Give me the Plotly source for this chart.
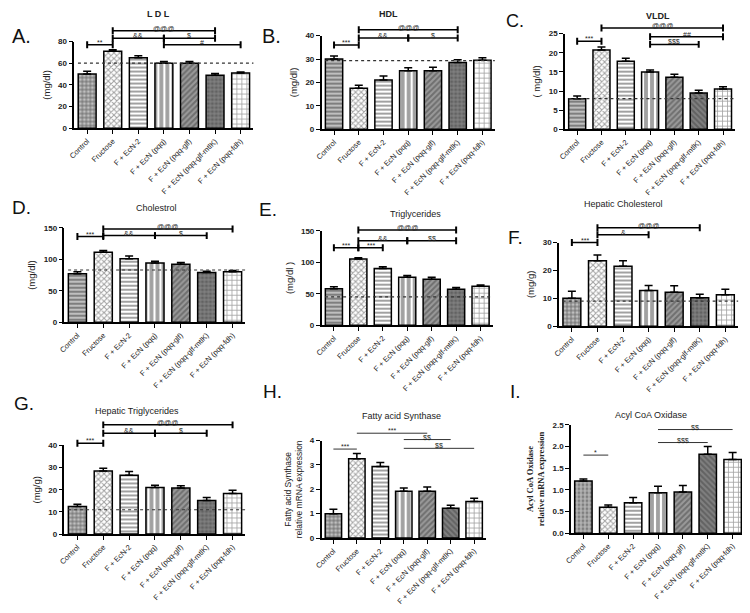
import plotly.graph_objects as go

# page has an 8px body margin: lay out in window pixels, convert with that offset
OX, OY = 8, 8
FW, FH = 742, 605

categories = ["Control", "Fructose", "F + EcN-2", "F + EcN (pqq)", "F + EcN (pqq-glf)",
              "F + EcN (pqq-glf-mtlK)", "F + EcN (pqq-fdh)"]

ldl = [50, 71, 65, 60, 60, 49, 51]
ldl_err = [2.5, 1.5, 2.0, 1.5, 1.5, 1.5, 0.8]
hdl = [30, 17.5, 21, 25, 25, 28.5, 29.5]
hdl_err = [1.3, 1.3, 1.7, 1.3, 1.5, 1.2, 1.0]
vldl = [8, 20.7, 17.8, 15, 13.6, 9.5, 10.5]
vldl_err = [0.7, 0.8, 0.8, 0.5, 0.8, 0.7, 0.6]
chol = [77, 111, 101, 94, 92, 79, 80]
chol_err = [3, 3, 4, 3, 3, 2, 2]
tg = [58, 105, 90, 76, 73, 57, 62]
tg_err = [3, 2, 3, 3, 3, 3, 2]
hchol = [10, 23.5, 21.5, 12.8, 12.2, 10.2, 11.3]
hchol_err = [2.5, 2.0, 2.0, 1.8, 2.3, 1.3, 2.0]
htg = [12.5, 28.5, 26.5, 21, 20.8, 15.2, 18.3]
htg_err = [1.0, 1.2, 1.7, 1.0, 1.0, 1.3, 1.5]
fas = [1.0, 3.25, 2.93, 1.92, 1.92, 1.22, 1.5]
fas_err = [0.18, 0.22, 0.17, 0.13, 0.17, 0.13, 0.13]
aco = [1.2, 0.6, 0.7, 0.93, 0.95, 1.82, 1.7]
aco_err = [0.05, 0.05, 0.12, 0.15, 0.15, 0.18, 0.16]

# brackets: (from index, to index, y value, label)
ldl_sig = [(0, 1, 77, "**"), (1, 3, 83, "&&"), (3, 5, 83, "$"), (1, 5, 90, "@@@"), (3, 6, 77, "#")]
hdl_sig = [(0, 1, 36, "***"), (1, 3, 39, "&&"), (3, 5, 39, "$"), (1, 5, 42.5, "@@@")]
vldl_sig = [(0, 1, 23, "***"), (1, 6, 26.5, "@@@"), (3, 6, 24.2, "##"), (3, 5, 22.2, "$$$")]
chol_sig = [(0, 1, 136, "***"), (1, 3, 137.5, "&&"), (3, 5, 137.5, "$"), (1, 6, 148, "@@@")]
tg_sig = [(0, 1, 123, "***"), (1, 2, 123, "***"), (1, 3, 134, "&&"), (3, 5, 134, "$$"), (1, 5, 151, "@@@")]
hchol_sig = [(0, 1, 30, "***"), (1, 3, 32.8, "&"), (1, 5, 35.3, "@@@")]
htg_sig = [(0, 1, 41, "***"), (1, 3, 45.5, "&&"), (3, 5, 45.5, "$"), (1, 6, 49.3, "@@@")]
fas_sig = [(0, 1, 3.65, "***"), (1, 4, 4.3, "***"), (3, 5, 4.04, "$$"), (3, 6, 3.68, "$$")]
aco_sig = [(0, 1, 1.8, "*"), (3, 5, 2.09, "$$$"), (3, 6, 2.39, "$$")]

panels = [
    dict(letter="A.", title="<b>L D L</b>", ytitle="(mg/dl)", v=ldl, e=ldl_err, ymax=80, dtick=20, ref=60,
         sig=ldl_sig, caps=True, x=(67, 248), y=(38, 126), lt=(2, 32, 20), tt=(152, 10), ctrl="."),
    dict(letter="B.", title="<b>HDL</b>", ytitle="(mg/dl)", v=hdl, e=hdl_err, ymax=40, dtick=10, ref=29.3,
         sig=hdl_sig, caps=True, x=(317, 492), y=(32, 127), lt=(255, 32, 20), tt=(385, 10), ctrl="-"),
    dict(letter="C.", title="<b>VLDL</b>", ytitle="( mg/dl)", v=vldl, e=vldl_err, ymax=25, dtick=5, ref=8,
         sig=vldl_sig, caps=True, x=(563, 735), y=(30, 127), lt=(501, 17, 18), tt=(657, 12), ctrl="-"),
    dict(letter="D.", title="Cholestrol", ytitle="(mg/dl)", v=chol, e=chol_err, ymax=150, dtick=50, ref=83,
         sig=chol_sig, caps=True, x=(57, 240), y=(227, 323), lt=(2, 206, 19), tt=(150, 207), ctrl="-"),
    dict(letter="E.", title="Triglycerides", ytitle="(mg/dl )", v=tg, e=tg_err, ymax=150, dtick=50, ref=45,
         sig=tg_sig, caps=True, x=(317, 490), y=(230, 326), lt=(252, 208, 19), tt=(412, 213), ctrl="-"),
    dict(letter="F.", title="Hepatic Cholesterol", ytitle="(mg/g)", v=hchol, e=hchol_err, ymax=30, dtick=10,
         ref=9, sig=hchol_sig, caps=True, x=(557, 738), y=(242, 327), lt=(503, 237, 19), tt=(622, 203), ctrl="."),
    dict(letter="G.", title="Hepatic Triglycerides", ytitle="(mg/g)", v=htg, e=htg_err, ymax=40, dtick=10,
         ref=11, sig=htg_sig, caps=True, x=(57, 240), y=(448, 538), lt=(4, 405, 19), tt=(130, 413), ctrl="."),
    dict(letter="H.", title="Fatty acid Synthase", ytitle="Fatty acid Synthase<br>relative mRNA expression",
         v=fas, e=fas_err, ymax=4, dtick=1, ref=None, sig=fas_sig, caps=False, x=(317, 483), y=(443, 542),
         lt=(256, 393, 19), tt=(398, 418), ctrl="."),
    dict(letter="I.", title="Acyl CoA Oxidase",
         ytitle="<b>Acyl CoA Oxidase<br>relative mRNA expression</b>", v=aco, e=aco_err, ymax=2.5, dtick=0.5,
         ref=None, sig=aco_sig, caps=False, x=(569, 745), y=(427, 537), lt=(505, 393, 19), tt=(650, 417),
         ctrl="+"),
]


def px(xv):
    return (xv - OX) / FW


def py(yv):
    return 1 - (yv - OY) / FH


fig = go.Figure()
shapes = []
annots = []
SANS = "Liberation Sans"

for k, p in enumerate(panels, start=1):
    xs = "" if k == 1 else str(k)
    xa, ya = "x" + xs, "y" + xs
    mtl_shape = "\\" if k in (3, 8, 9) else "."
    shapes_list = [p["ctrl"], "x", "-", "|", "/", mtl_shape, "+"]
    bg = ["#7e7e7e", "white", "white", "white", "#9a9a9a", "#808080", "white"]
    fg = ["#262626", "black", "#111111", "black", "#0e0e0e", "#262626", "black"]
    sz = [4, 4, 4, 6, 4, 4, 5]
    sol = [0.5, 0.45, 0.5, 0.65, 0.5, 0.5, 0.3]
    fig.add_trace(go.Bar(
        x=categories, y=p["v"], xaxis=xa, yaxis=ya, width=0.7,
        marker=dict(color=bg, line=dict(color="black", width=1.5),
                    pattern=dict(shape=shapes_list, fgcolor=fg, bgcolor=bg, size=sz, solidity=sol)),
        error_y=dict(type="data", array=p["e"], arrayminus=[0] * 7, symmetric=False,
                     color="black", thickness=1.5, width=4),
        showlegend=False, hoverinfo="skip"))
    x0, x1 = p["x"]
    y0, y1 = p["y"]
    fig.layout["xaxis" + xs] = dict(
        domain=[px(x0), min(px(x1), 1)], anchor=ya, type="category", range=[-0.5, 6.5],
        showline=True, linecolor="black", linewidth=1.5, ticks="outside", ticklen=4,
        tickcolor="black", tickwidth=1.2, tickangle=-45, showgrid=False,
        tickfont=dict(family=SANS, size=7.5, color="#222"))
    ytick_fmt = ".1f" if k == 9 else ""
    fig.layout["yaxis" + xs] = dict(
        domain=[py(y1), py(y0)], anchor=xa, range=[0, p["ymax"]], dtick=p["dtick"],
        tickformat=ytick_fmt, showline=True, linecolor="black", linewidth=1.5, ticks="outside",
        ticklen=4, tickcolor="black", tickwidth=1.2, showgrid=False, zeroline=False,
        tickfont=dict(family=SANS, size=8, color="#222", weight="bold"),
        title=dict(text=p["ytitle"], standoff=6,
                   font=dict(family="Liberation Serif" if k == 9 else SANS, size=8.5 if k >= 8 else 9.5,
                             color="#222")))
    if p["ref"] is not None:
        shapes.append(dict(type="line", xref=xa + " domain", yref=ya, x0=0.02, x1=1.0,
                           y0=p["ref"], y1=p["ref"], layer="above",
                           line=dict(color="#333", width=1.2, dash="dot")))
    hpx = y1 - y0
    for (i0, i1, yv, lab) in p["sig"]:
        yd = yv / p["ymax"]
        shapes.append(dict(type="line", xref=xa, yref=ya + " domain", x0=i0, x1=i1, y0=yd, y1=yd,
                           line=dict(color="black" if p["caps"] else "#333", width=1.5 if p["caps"] else 1)))
        if p["caps"]:
            c = 3.5 / hpx
            for xi in (i0, i1):
                shapes.append(dict(type="line", xref=xa, yref=ya + " domain", x0=xi, x1=xi,
                                   y0=yd - c, y1=yd + c, line=dict(color="black", width=2)))
        annots.append(dict(xref=xa, yref=ya + " domain", x=(i0 + i1) / 2, y=yd, text=lab,
                           showarrow=False, yanchor="bottom", yshift=-3,
                           font=dict(family=SANS, size=7, color="#222")))
    lx, ly, ls = p["lt"]
    annots.append(dict(xref="paper", yref="paper", x=px(lx), y=py(ly), text=p["letter"],
                       showarrow=False, xanchor="left", yanchor="middle",
                       font=dict(family=SANS, size=ls, color="#111")))
    tx, ty = p["tt"]
    annots.append(dict(xref="paper", yref="paper", x=px(tx), y=py(ty), text=p["title"],
                       showarrow=False, xanchor="center", yanchor="middle",
                       font=dict(family=SANS, size=9, color="#222")))

fig.update_layout(width=FW, height=FH, margin=dict(l=0, r=0, t=0, b=0),
                  paper_bgcolor="white", plot_bgcolor="white",
                  shapes=shapes, annotations=annots, bargap=0.3)
fig.write_html("out.html")
